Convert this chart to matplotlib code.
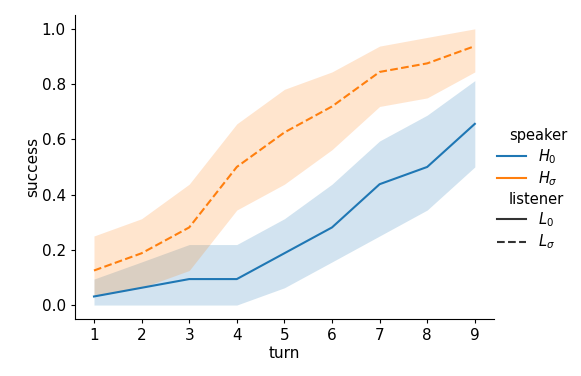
import matplotlib
matplotlib.use('Agg')
from matplotlib import pyplot as plt
from matplotlib.lines import Line2D
from matplotlib.offsetbox import VPacker

plt.rcParams['font.size'] = 11

turns = [1, 2, 3, 4, 5, 6, 7, 8, 9]

# speaker H_0 / listener L_0
h0_mean = [0.031, 0.0625, 0.094, 0.094, 0.1875, 0.281, 0.4375, 0.5, 0.656]
h0_low = [0.0, 0.0, 0.0, 0.0, 0.0625, 0.156, 0.25, 0.344, 0.5]
h0_high = [0.094, 0.156, 0.219, 0.219, 0.3125, 0.4375, 0.594, 0.6875, 0.8125]

# speaker H_sigma / listener L_sigma
hs_mean = [0.125, 0.1875, 0.281, 0.5, 0.625, 0.719, 0.844, 0.875, 0.9375]
hs_low = [0.031, 0.0625, 0.125, 0.344, 0.4375, 0.5625, 0.719, 0.75, 0.844]
hs_high = [0.25, 0.3125, 0.4375, 0.656, 0.781, 0.844, 0.9375, 0.969, 1.0]

blue = '#1f77b4'
orange = '#ff7f0e'

fig = plt.figure(figsize=(5.81, 3.76), dpi=100)
ax = fig.add_axes([0.129, 0.152, 0.721, 0.808])

ax.fill_between(turns, h0_low, h0_high, color=blue, alpha=0.2, linewidth=0)
ax.plot(turns, h0_mean, color=blue, lw=1.5)
ax.fill_between(turns, hs_low, hs_high, color=orange, alpha=0.2, linewidth=0)
ax.plot(turns, hs_mean, color=orange, lw=1.5, dashes=(3.7, 1.6))

ax.set_xlim(0.6, 9.4)
ax.set_ylim(-0.05, 1.05)
ax.set_xticks(turns)
ax.set_yticks([0.0, 0.2, 0.4, 0.6, 0.8, 1.0])
ax.tick_params(length=3)
ax.set_xlabel('turn', labelpad=2)
ax.set_ylabel('success', labelpad=1)
ax.spines['top'].set_visible(False)
ax.spines['right'].set_visible(False)

# legend with subtitles, seaborn style
handles = [
    Line2D([], [], linestyle='', visible=False),
    Line2D([], [], color=blue, lw=1.5),
    Line2D([], [], color=orange, lw=1.5),
    Line2D([], [], linestyle='', visible=False),
    Line2D([], [], color='.2', lw=1.5),
    Line2D([], [], color='.2', lw=1.5, dashes=(3.7, 1.6)),
]
labels = ['speaker', '$H_0$', '$H_\\sigma$', 'listener', '$L_0$', '$L_\\sigma$']
leg = fig.legend(handles, labels, loc='center left', bbox_to_anchor=(0.833, 0.495),
                 frameon=False, labelspacing=0.25, handlelength=2.0,
                 fontsize=10.5)
for hpack in leg.findobj(VPacker)[0].get_children():
    draw_area, text_area = hpack.get_children()
    if not all(a.get_visible() for a in draw_area.get_children()):
        draw_area.set_width(0)

fig.savefig('out.png', dpi=100)
